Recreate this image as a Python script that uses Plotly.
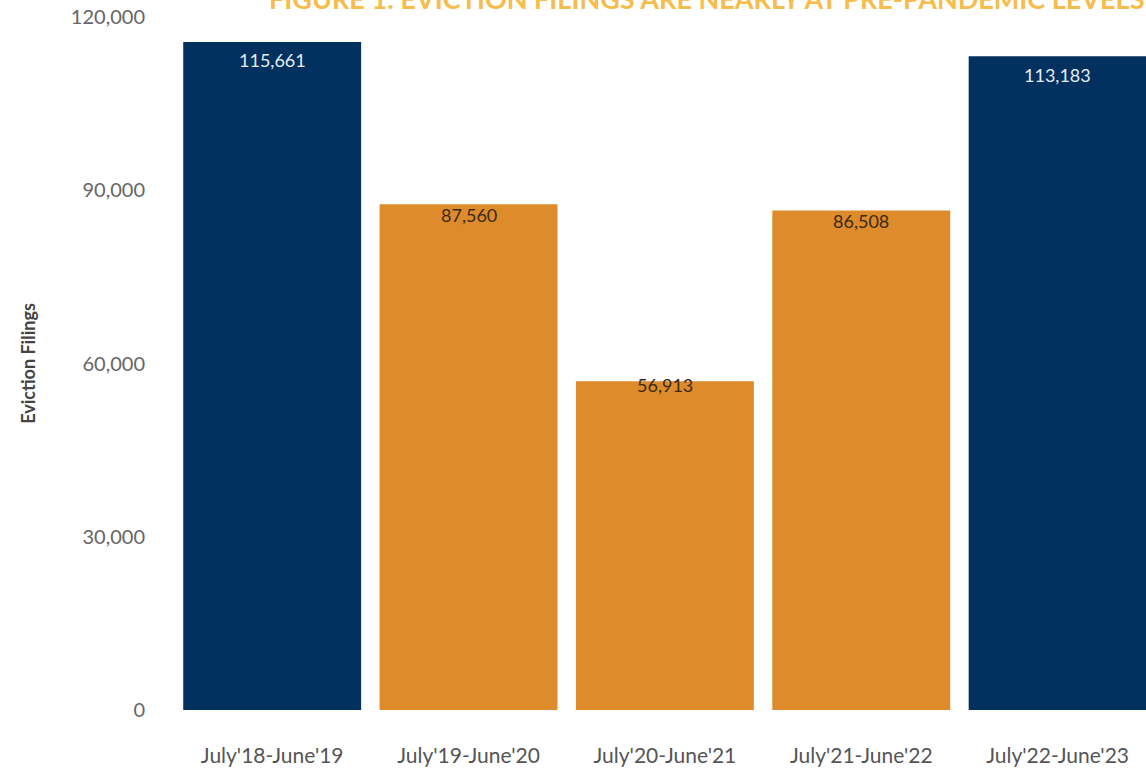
import plotly.graph_objects as go

periods = ["July'18-June'19", "July'19-June'20", "July'20-June'21", "July'21-June'22", "July'22-June'23"]
filings = [115661, 87560, 56913, 86508, 113183]
y_ticks = [0, 30000, 60000, 90000, 120000]

navy = "#02305F"
orange = "#DE8B2B"
bar_colors = [navy, orange, orange, orange, navy]
label_colors = ["#E4ECF4", "#3A2A12", "#3A2A12", "#3A2A12", "#E4ECF4"]
label_shifts = [-18, -11, -4, -11, -19]

fig = go.Figure()
fig.add_trace(go.Bar(
    x=list(range(len(periods))), y=filings,
    marker=dict(color=bar_colors, line=dict(width=0)),
    hoverinfo="skip",
))

for i, v in enumerate(filings):
    fig.add_annotation(
        x=i, y=v, xref="x", yref="y", text=f"{v:,}", showarrow=False,
        yshift=label_shifts[i], yanchor="middle",
        font=dict(family="Lato", size=18, color=label_colors[i]),
    )

fig.add_annotation(
    x=1.0, y=1 + 19 / 693, xref="paper", yref="paper", xanchor="right", yanchor="middle",
    text="<b>FIGURE 1: EVICTION FILINGS ARE NEARLY AT PRE-PANDEMIC LEVELS</b>",
    showarrow=False, font=dict(family="Lato", size=27, color="#F6BC4C"),
)

fig.update_layout(
    width=1146, height=770,
    margin=dict(l=174, r=0, t=17, b=60, autoexpand=False),
    paper_bgcolor="white", plot_bgcolor="white",
    bargap=0.094, showlegend=False,
    font=dict(family="Lato", color="#555555"),
)
fig.update_xaxes(
    range=[-0.5, 4.45], tickmode="array", tickvals=list(range(len(periods))), ticktext=periods,
    showgrid=False, zeroline=False, showline=False, ticks="", automargin=False,
    tickfont=dict(family="Lato", size=21, color="#555555"), ticklabelstandoff=31,
)
fig.update_yaxes(
    range=[0, 120000], tickmode="array", tickvals=y_ticks,
    ticktext=[f"{t:,}" for t in y_ticks],
    showgrid=False, zeroline=False, showline=False, ticks="", automargin=False,
    tickfont=dict(family="Lato", size=20, color="#666666"), ticklabelstandoff=28,
    title=dict(text="<b>Eviction Filings</b>", standoff=30,
               font=dict(family="Lato", size=18, color="#444444")),
)

fig.write_html("out.html")
